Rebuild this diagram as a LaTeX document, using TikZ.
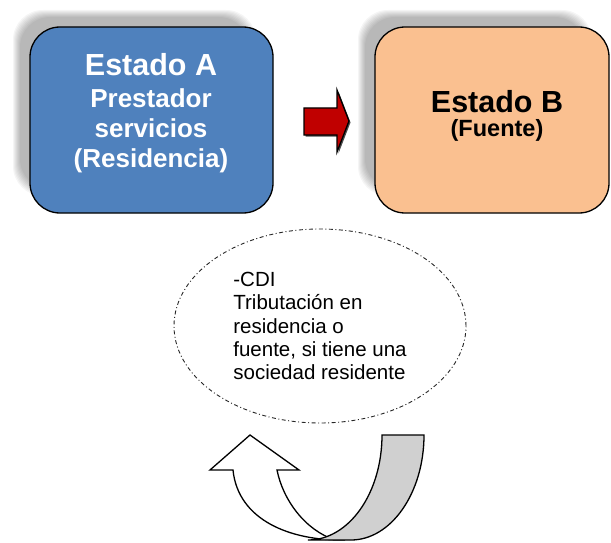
\documentclass[tikz,border=0pt]{standalone}
\usepackage{fontspec}
\setmainfont{Liberation Sans}
\usetikzlibrary{shapes.geometric}

\definecolor{azulA}{RGB}{79,129,189}
\definecolor{naranjaB}{RGB}{250,192,144}
\definecolor{rojoF}{RGB}{192,0,0}
\definecolor{grisU}{RGB}{208,208,208}

\tikzset{
  estado/.style={draw=black, line width=1.3pt, rounded corners=30pt,
    minimum height=186pt, inner sep=0pt},
  textoA/.style={align=center, text=white, inner sep=0pt,
    font=\bfseries\fontsize{26}{30}\selectfont},
  textoB/.style={align=center, text=black, inner sep=0pt,
    font=\bfseries\fontsize{23.5}{24}\selectfont},
  nube/.style={ellipse, draw=black!85, line width=0.9pt,
    dash pattern=on 4pt off 2.5pt on 1pt off 2.5pt,
    minimum width=292pt, minimum height=194pt, inner sep=0pt,
    align=left, font=\fontsize{20.5}{23.3}\selectfont},
  flecha/.style={draw=black, line width=1.3pt, line join=miter}
}

\begin{document}
\begin{tikzpicture}[x=1pt, y=-1pt]
  \useasboundingbox (0,0) rectangle (611,543);
  % sombras de los estados
  \foreach \k in {0,...,7} {
    \fill[black, opacity=0.04, rounded corners=30pt]
      (13+\k,10+\k) rectangle (256-\k,196-\k);
    \fill[black, opacity=0.04, rounded corners=30pt]
      (358+\k,10+\k) rectangle (592-\k,196-\k);
  }
  % estados
  \node[estado, fill=azulA, minimum width=243pt] (estA) at (151.5,120) {};
  \node[estado, fill=naranjaB, minimum width=234pt] (estB) at (492,120) {};
  \node[textoA, anchor=north] (txtA) at (151,53)
    {{\fontsize{30.5}{30}\selectfont Estado A}\\[2pt]Prestador\\servicios\\(Residencia)};
  \node[textoB, anchor=north] (txtB) at (497,90)
    {{\fontsize{30.5}{30}\selectfont Estado B}\\(Fuente)};
  % flecha roja
  \fill[black!70, shift={(1.5,1.5)}] (304,108) -- (337,108) -- (337,90) -- (349,121)
    -- (337,152) -- (337,135) -- (304,135) -- cycle;
  \draw[flecha, fill=rojoF] (304,108) -- (337,108) -- (337,90) -- (349,121)
    -- (337,152) -- (337,135) -- (304,135) -- cycle;
  % CDI
  \node[nube] (cdi) at (320,326)
    {-CDI\\Tributación en\\residencia o\\fuente, si tiene una\\sociedad residente};
  % flecha de vuelta
  \coordinate (punta) at (250,435);
  \coordinate (cabI) at (210,470);
  \coordinate (cabD) at (299,470);
  \coordinate (astI) at (233,470);
  \coordinate (astD) at (277,470);
  \coordinate (dorsoI) at (382,435);
  \coordinate (dorsoD) at (424,435);
  \draw[flecha, fill=white] (cabI) -- (punta) -- (cabD) -- (astD)
    .. controls (283,500) and (305,530) .. (335,540) -- (345,540)
    .. controls (290,541) and (238,520) .. (astI) -- cycle;
  \draw[flecha, fill=grisU] (308,540) .. controls (349,540) and (382,493) .. (dorsoI)
    -- (dorsoD) .. controls (424,493) and (391,540) .. (351,540) -- cycle;
\end{tikzpicture}
\end{document}
